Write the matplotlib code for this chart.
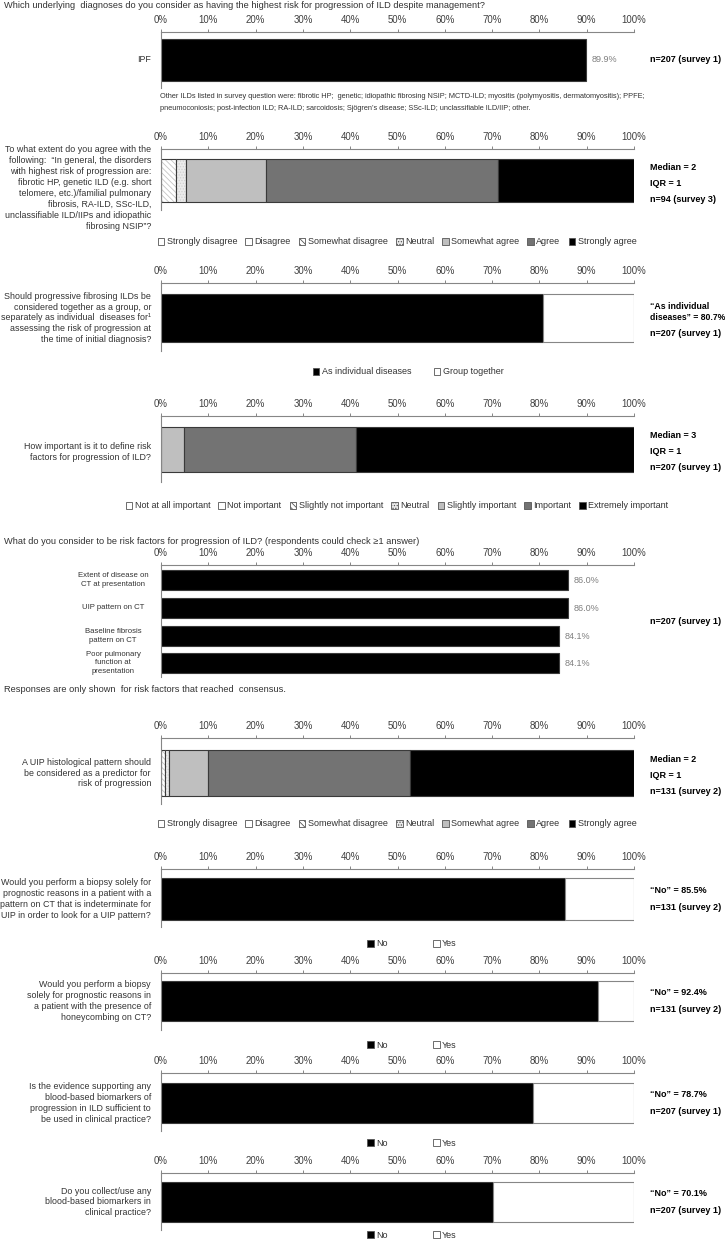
# Survey results on risk of progression in ILD: stacked horizontal bar panels

import matplotlib
matplotlib.use("Agg")
import matplotlib.pyplot as plt
from matplotlib.patches import Patch

plt.rcParams["font.family"] = ["Liberation Sans", "DejaVu Sans"]
plt.rcParams["hatch.linewidth"] = 0.6

# ----------------------------------------
# Data (percent of respondents)

ipf_labels = ["IPF"]
ipf_values = [89.9]

agree_cats = ["Strongly disagree", "Disagree", "Somewhat disagree", "Neutral",
              "Somewhat agree", "Agree", "Strongly agree"]
fibrotic_agree = [0, 0, 3.2, 2.1, 17.0, 48.9, 28.7]
uip_histo_agree = [0, 0, 0.8, 0.8, 8.4, 42.7, 47.3]

importance_cats = ["Not at all important", "Not important", "Slightly not important", "Neutral",
                   "Slightly important", "Important", "Extremely important"]
importance_values = [0, 0, 0, 0, 4.8, 36.5, 58.7]

group_cats = ["As individual diseases", "Group together"]
group_values = [80.7, 19.3]

risk_factors = ["Extent of disease on\nCT at presentation", "UIP pattern on CT",
                "Baseline fibrosis\npattern on CT", "Poor pulmonary\nfunction at\npresentation"]
risk_values = [86.0, 86.0, 84.1, 84.1]

yes_no = ["No", "Yes"]
biopsy_indeterminate = [85.5, 14.5]
biopsy_honeycombing = [92.4, 7.6]
biomarker_evidence = [78.7, 21.3]
biomarker_use = [70.1, 29.9]

# ----------------------------------------
# Layout helpers (pixel coordinates, origin top-left)

W, H = 725, 1240
X0, X1 = 161, 634
RX = 650
AXIS = "#868686"
EDGE = "#3a3a3a"
TXT = "#333333"
FS = 6.5

fig = plt.figure(figsize=(W / 100, H / 100), dpi=100)


def ftext(x, y, s, **kw):
    kw.setdefault("fontsize", FS)
    kw.setdefault("va", "center")
    kw.setdefault("color", "black")
    return fig.text(x / W, 1 - y / H, s, **kw)


def panel(top, bottom):
    ax = fig.add_axes([X0 / W, 1 - bottom / H, (X1 - X0) / W, (bottom - top) / H])
    ax.set_xlim(0, 100)
    ax.set_ylim(bottom, top)
    ax.xaxis.tick_top()
    ax.set_xticks(range(0, 101, 10))
    ax.set_xticklabels([f"{t}%" for t in range(0, 101, 10)])
    ax.tick_params(axis="x", direction="out", length=2.5, width=0.7, color=AXIS,
                   labelsize=6.9, labelcolor="#404040", pad=2.5)
    ax.set_yticks([])
    for s in ["right", "bottom"]:
        ax.spines[s].set_visible(False)
    for s in ["top", "left"]:
        ax.spines[s].set_color(AXIS)
        ax.spines[s].set_linewidth(0.8)
    ax.patch.set_visible(False)
    return ax


likert_styles = [
    {"fc": "white"},
    {"fc": "white"},
    {"fc": "white", "hatch": "\\\\\\\\\\\\", "hc": "#c4c4c4"},
    {"fc": "#ebebeb", "hatch": "......", "hc": "#d0d0d0"},
    {"fc": "#bfbfbf"},
    {"fc": "#737373"},
    {"fc": "black"},
]
yes_no_styles = [{"fc": "black"}, {"fc": "white"}]


def segment(ax, y, h, left, width, st):
    if st.get("hatch"):
        ax.barh(y, width, height=h, left=left, color=st["fc"], edgecolor=st["hc"],
                hatch=st["hatch"], linewidth=0)
        ax.barh(y, width, height=h, left=left, fill=False, edgecolor=EDGE, linewidth=0.8)
    else:
        ec = AXIS if st["fc"] == "white" else EDGE
        ax.barh(y, width, height=h, left=left, color=st["fc"], edgecolor=ec, linewidth=0.8)


def stack(ax, top, bottom, values, styles):
    left = 0
    for v, st in zip(values, styles):
        if v > 0:
            segment(ax, (top + bottom) / 2, bottom - top, left, v, st)
        left += v


def legend(y, labels, styles, cx=397, spacing=0.9):
    handles = []
    for st in styles:
        handles.append(Patch(facecolor=st["fc"], edgecolor="#555555", linewidth=0.6,
                             hatch=st.get("hatch")))
    fig.legend(handles, labels, loc="center", bbox_to_anchor=(cx / W, 1 - y / H),
               ncol=len(labels), frameon=False, fontsize=FS, handlelength=0.75,
               handleheight=0.75, handletextpad=0.25, columnspacing=spacing,
               labelcolor=TXT, borderpad=0)


def question(y, s):
    ftext(151, y, s, ha="right", color=TXT, fontsize=6.4, linespacing=1.28)


def right_notes(y, lines, step=16):
    y0 = y - step * (len(lines) - 1) / 2
    for i, s in enumerate(lines):
        ftext(RX, y0 + step * i, s, fontweight="bold")


# ----------------------------------------
# 1. Highest-risk diagnosis

ftext(4, 6, "Which underlying  diagnoses do you consider as having the highest risk for "
      "progression of ILD despite management?", color=TXT, fontsize=6.7)
ax = panel(32, 88)
ax.barh(60, ipf_values[0], height=42, color="black", edgecolor=EDGE, linewidth=0.8)
ax.text(ipf_values[0] + 1.2, 60, f"{ipf_values[0]:.1f}%", va="center", fontsize=FS, color="#7f7f7f")
question(60, ipf_labels[0])
right_notes(60, ["n=207 (survey 1)"])
ftext(160, 97, "Other ILDs listed in survey question were: fibrotic HP;  genetic; idiopathic "
      "fibrosing NSIP; MCTD-ILD; myositis (polymyositis, dermatomyositis); PPFE;", fontsize=5.3, color=TXT)
ftext(160, 108, "pneumoconiosis; post-infection ILD; RA-ILD; sarcoidosis; Sjögren’s disease; "
      "SSc-ILD; unclassifiable ILD/IIP; other.", fontsize=5.3, color=TXT)

# 2. Agreement with list of disorders
ax = panel(149, 210)
stack(ax, 159, 202, fibrotic_agree, likert_styles)
question(188, "To what extent do you agree with the\nfollowing:  “In general, the disorders\n"
         "with highest risk of progression are:\nfibrotic HP, genetic ILD (e.g. short\n"
         "telomere, etc.)/familial pulmonary\nfibrosis, RA-ILD, SSc-ILD,\n"
         "unclassifiable ILD/IIPs and idiopathic\nfibrosing NSIP”?")
right_notes(183, ["Median = 2", "IQR = 1", "n=94 (survey 3)"])
legend(242, agree_cats, likert_styles)

# 3. Group vs individual diseases
ax = panel(283, 351)
stack(ax, 294, 342, group_values, yes_no_styles)
question(318, "Should progressive fibrosing ILDs be\nconsidered together as a group, or\n"
         "separately as individual  diseases for\u00b9\nassessing the risk of progression at\n"
         "the time of initial diagnosis?")
ftext(RX, 306, "“As individual", fontweight="bold", fontsize=6.3)
ftext(RX, 318, f"diseases” = {group_values[0]:.1f}%", fontweight="bold", fontsize=6.2)
ftext(RX, 334, "n=207 (survey 1)", fontweight="bold")
legend(372, group_cats, yes_no_styles, cx=408, spacing=2.5)

# 4. Importance of defining risk factors
ax = panel(416, 482)
stack(ax, 427, 472, importance_values, likert_styles)
question(452, "How important is it to define risk\nfactors for progression of ILD?")
right_notes(452, ["Median = 3", "IQR = 1", "n=207 (survey 1)"])
legend(506, importance_cats, likert_styles)

# 5. Risk factors
ftext(4, 542, "What do you consider to be risk factors for progression of ILD? "
      "(respondents could check ≥1 answer)", color=TXT, fontsize=6.7)
ax = panel(565, 677)
bar_tops = [570, 598, 626, 653]
for lab, v, t in zip(risk_factors, risk_values, bar_tops):
    ax.barh(t + 10, v, height=20, color="black", edgecolor=EDGE, linewidth=0.8)
    ax.text(v + 1.2, t + 10, f"{v:.1f}%", va="center", fontsize=FS, color="#7f7f7f")
    ftext(113, t + 10, lab, ha="center", fontsize=5.6, color=TXT, linespacing=1.3)
right_notes(621, ["n=207 (survey 1)"])
ftext(4, 690, "Responses are only shown  for risk factors that reached  consensus.", color=TXT,
      fontsize=6.7)

# 6. UIP histological pattern
ax = panel(738, 804)
stack(ax, 750, 796, uip_histo_agree, likert_styles)
question(773, "A UIP histological pattern should\nbe considered as a predictor for\nrisk of progression")
right_notes(775, ["Median = 2", "IQR = 1", "n=131 (survey 2)"])
legend(824, agree_cats, likert_styles)

# 7-10. Yes/No questions
yes_no_panels = [
    (869, 927, 878, 920, 944, biopsy_indeterminate,
     "Would you perform a biopsy solely for\nprognostic reasons in a patient with a\n"
     "pattern on CT that is indeterminate for\nUIP in order to look for a UIP pattern?",
     "n=131 (survey 2)"),
    (973, 1030, 981, 1021, 1045, biopsy_honeycombing,
     "Would you perform a biopsy\nsolely for prognostic reasons in\na patient with the presence of\n"
     "honeycombing on CT?", "n=131 (survey 2)"),
    (1073, 1131, 1083, 1123, 1143, biomarker_evidence,
     "Is the evidence supporting any\nblood-based biomarkers of\nprogression in ILD sufficient to\n"
     "be used in clinical practice?", "n=207 (survey 1)"),
    (1173, 1230, 1182, 1222, 1235, biomarker_use,
     "Do you collect/use any\nblood-based biomarkers in\nclinical practice?", "n=207 (survey 1)"),
]
for top, bottom, bt, bb, ly, vals, q, n in yes_no_panels:
    ax = panel(top, bottom)
    stack(ax, bt, bb, vals, yes_no_styles)
    c = (bt + bb) / 2
    question(c, q)
    right_notes(c, [f"“No” = {vals[0]:.1f}%", n], step=17)
    legend(ly, yes_no, yes_no_styles, cx=412, spacing=5)

fig.savefig("out.png", dpi=100)
